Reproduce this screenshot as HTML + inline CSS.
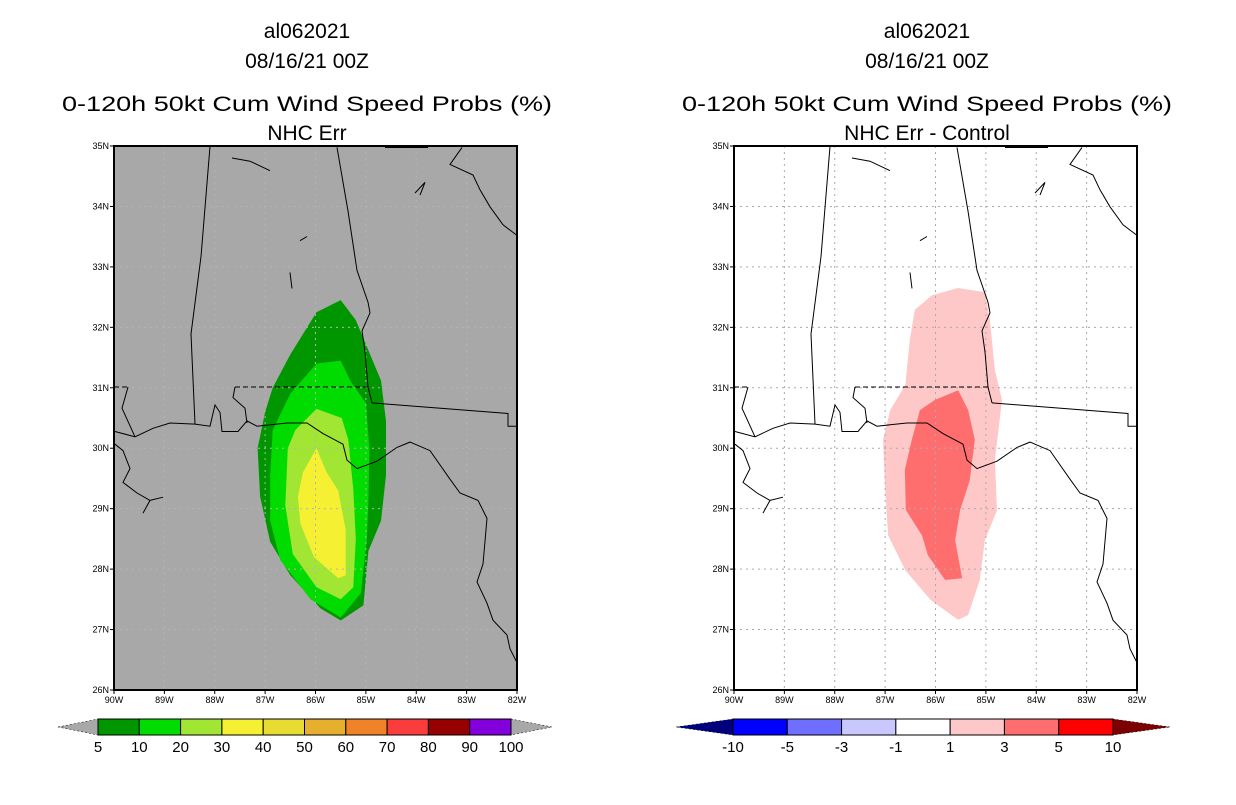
<!DOCTYPE html>
<html><head><meta charset="utf-8"><style>
body{margin:0;background:#fff;width:1236px;height:800px;overflow:hidden}
svg text{font-family:"Liberation Sans",sans-serif}
</style></head><body>
<svg id="s" width="1236" height="800" viewBox="0 0 1236 800"></svg>
<script>
const latTicks=[26,27,28,29,30,31,32,33,34,35];
const lonTicks=[90,89,88,87,86,85,84,83,82];
const leftLevels=['5','10','20','30','40','50','60','70','80','90','100'];
const leftColors=['#009600','#00dc00','#a0e632','#f5f032','#e6dc32','#e6af2d','#f08228','#fa3c3c','#960000','#8200dc'];
const rightLevels=['-10','-5','-3','-1','1','3','5','10'];
const rightColors=['#0000ff','#6e6eff','#c8c8ff','#ffffff','#ffc8c8','#ff6e6e','#ff0000'];
// contour polygons [lonW, lat]
const p5=[[85.5,32.45],[85.2,32.12],[84.7,31.12],[84.6,30.45],[84.6,29.55],[84.7,28.8],[84.95,28.3],[85.05,27.4],[85.5,27.15],[85.9,27.35],[86.5,27.9],[86.9,28.45],[87.1,29.2],[87.15,30.0],[87.0,30.6],[86.85,31.0],[86.5,31.55],[85.98,32.25]];
const p10=[[85.98,31.4],[85.5,31.45],[85.3,31.1],[85.0,30.75],[84.93,30.0],[84.95,29.1],[84.98,28.5],[85.1,27.6],[85.5,27.2],[86.1,27.5],[86.7,28.15],[86.9,28.8],[86.9,29.55],[86.85,30.3],[86.5,30.9]];
const p20=[[85.98,30.65],[85.48,30.5],[85.35,30.15],[85.25,29.32],[85.2,28.5],[85.25,27.7],[85.5,27.5],[85.98,27.7],[86.45,28.25],[86.6,29.05],[86.55,30.0],[86.4,30.3]];
const p30=[[85.98,30.0],[85.78,29.6],[85.55,29.3],[85.4,28.65],[85.4,27.9],[85.55,27.85],[86.03,28.2],[86.3,28.75],[86.35,29.2],[86.25,29.6]];
const q1=[[86.07,32.53],[85.55,32.65],[85.02,32.58],[84.92,32.12],[84.82,31.29],[84.68,30.8],[84.82,29.8],[84.78,28.97],[85.02,28.48],[85.12,27.82],[85.35,27.24],[85.55,27.16],[86.1,27.49],[86.6,27.98],[86.94,28.56],[87.0,29.31],[87.04,30.14],[86.9,30.63],[86.6,31.05],[86.51,31.79],[86.41,32.29]];
const q2=[[85.55,30.96],[85.35,30.63],[85.22,30.14],[85.32,29.47],[85.51,28.98],[85.61,28.48],[85.47,27.85],[85.81,27.82],[86.15,28.23],[86.27,28.56],[86.59,28.98],[86.61,29.64],[86.47,30.14],[86.31,30.63],[86.01,30.8]];
// map outlines (geography, panel-relative pixels)
const coast=[[1,269],[21,274],[39,266],[56,261],[81,262],[96,264],[101,244],[106,251],[108,269],[124,269],[133,259],[143,264],[173,261],[193,261],[209,271],[229,281],[233,296],[243,304],[263,297],[283,284],[296,279],[316,287],[336,314],[346,327],[364,334],[373,351],[369,394],[363,411],[373,431],[379,447],[393,461],[396,474],[403,487]];
const laCoast=[[1,281],[9,287],[16,304],[9,317],[23,327],[36,334],[29,346],null,[36,334],[49,331]];
const alBorder=[[96,0],[87,104],[77,177],[81,262]];
const gaBorder=[[223,1],[234,61],[243,117],[254,147],[256,157],[248,174],[251,194],[254,227],[258,242]];
const flLine=[[258,242],[394,252],[394,264],[403,264],[403,242]];
const msWest=[[14,227],[8,247],[21,274]];
const msBorder=[[121,227],[119,237],[131,247],[133,261]];
const atl=[[348,1],[336,17],[359,27],[366,41],[376,57],[389,74],[403,84]];
const lakes=[[[118,11],[136,14],[156,23]],[[186,89],[193,85]],[[176,119],[178,134]],[[301,44],[311,34],[306,46]]];
const d31=[[0,227],[14,227],null,[121,227],[256,227]];
const ns='http://www.w3.org/2000/svg';
const S=document.getElementById('s');
function el(t,a,p){const e=document.createElementNS(ns,t);for(const k in a)e.setAttribute(k,a[k]);(p||S).appendChild(e);return e;}
const X0L=114,W=403,Y0=146,H=544;
function xs(ox){return lon=>ox+(90-lon)/8*W;}
function ys(lat){return Y0+(35-lat)/9*H;}
function my(y){return (y+6)*1.06-6;}
function pts(arr,fx){return arr.map(p=>fx(p[0]).toFixed(1)+','+ys(p[1]).toFixed(1)).join(' ');}
function line(arr,ox,g,dash){let seg=[];const segs=[];arr.forEach(p=>{if(p===null){segs.push(seg);seg=[];}else seg.push(p);});segs.push(seg);
 segs.forEach(sg=>{const e=el('polyline',{points:sg.map(p=>(p[0]+ox)+','+(my(p[1])+Y0).toFixed(1)).join(' '),fill:'none',stroke:'#000','stroke-width':1,'stroke-dasharray':dash||'none'},g);});}
function title(cx,lines){lines.forEach((t,i)=>{const y=[38,68,111,140][i];const e=el('text',{x:cx,y:y,'text-anchor':'middle','font-size':21,fill:'#000'});e.textContent=t;if(i==2){e.setAttribute('textLength',490);e.setAttribute('lengthAdjust','spacingAndGlyphs');}});}
function panel(ox,bg,polys,gridCol,name){
 const fx=xs(ox);const g=el('g',{});
 const r=el('rect',{x:ox,y:Y0,width:W,height:H,fill:bg},g);
 polys.forEach(pp=>{const e=el('polygon',{points:pts(pp[0],fx),fill:pp[1]},g);});
 lonTicks.slice(1,-1).forEach(l=>{const e=el('line',{x1:fx(l),x2:fx(l),y1:Y0,y2:Y0+H,stroke:gridCol,'stroke-dasharray':'2,4'},g);});
 latTicks.slice(1,-1).forEach(l=>{const e=el('line',{x1:ox,x2:ox+W,y1:ys(l),y2:ys(l),stroke:gridCol,'stroke-dasharray':'2,4'},g);});
 [coast,laCoast,msBorder,msWest,alBorder,gaBorder,flLine,atl].concat(lakes).forEach(a=>line(a,ox,g));
 line(d31,ox,g,'5,3');
 el('line',{x1:ox+271,x2:ox+314,y1:Y0+1,y2:Y0+1,stroke:'#000','stroke-width':2},g);
 const f=el('rect',{x:ox,y:Y0,width:W,height:H,fill:'none',stroke:'#000','stroke-width':2},g);
 latTicks.forEach(l=>{el('line',{x1:ox-4,x2:ox,y1:ys(l),y2:ys(l),stroke:'#000'},g);const t=el('text',{x:ox-5,y:ys(l)+3,'text-anchor':'end','font-size':9},g);t.textContent=l+'N';});
 lonTicks.forEach(l=>{el('line',{x1:fx(l),x2:fx(l),y1:Y0+H,y2:Y0+H+4,stroke:'#000'},g);const t=el('text',{x:fx(l),y:Y0+H+13,'text-anchor':'middle','font-size':9},g);t.textContent=l+'W';});
}
function cbar(x0,x1,tipL,tipR,levels,colors,cl,cr,name){
 const g=el('g',{});
 const n=colors.length,w=(x1-x0)/n,y0=719,y1=735,ym=727;
 const a=el('polygon',{points:`${tipL},${ym} ${x0},${y0} ${x0},${y1}`,fill:cl,stroke:'#000','stroke-width':0.5,'stroke-dasharray':'2,2'},g);
 const b=el('polygon',{points:`${tipR},${ym} ${x1},${y0} ${x1},${y1}`,fill:cr,stroke:'#000','stroke-width':0.5,'stroke-dasharray':'2,2'},g);
 colors.forEach((c,i)=>{const r=el('rect',{x:x0+i*w,y:y0,width:w,height:y1-y0,fill:c,stroke:'#000','stroke-width':1},g);});
 levels.forEach((l,i)=>{const t=el('text',{x:x0+i*w,y:752,'text-anchor':'middle','font-size':15},g);t.textContent=l;});
}
panel(X0L,'#a8a8a8',[[p5,leftColors[0],'5'],[p10,leftColors[1],'10'],[p20,leftColors[2],'20'],[p30,leftColors[3],'30']],'#b4b4b4','left-map');
panel(734,'#ffffff',[[q1,'#ffc8c8','1'],[q2,'#ff6e6e','3']],'#aaaaaa','right-map');
title(307,['al062021','08/16/21 00Z','0-120h 50kt Cum Wind Speed Probs (%)','NHC Err']);
title(927,['al062021','08/16/21 00Z','0-120h 50kt Cum Wind Speed Probs (%)','NHC Err - Control']);
cbar(98,511,58,552,leftLevels,leftColors,'#a8a8a8','#a8a8a8','left-colorbar');
cbar(733,1113,676,1170,rightLevels,rightColors,'#00007d','#7d0000','right-colorbar');
</script>
</body></html>
